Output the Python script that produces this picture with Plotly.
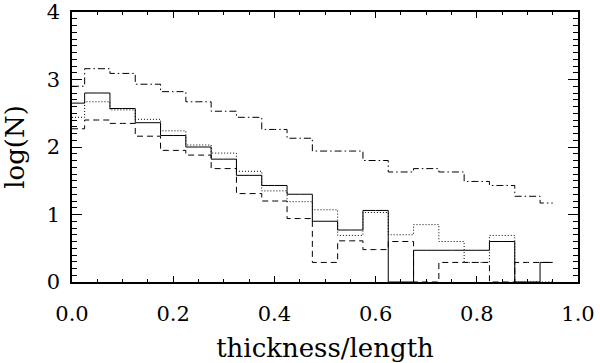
import plotly.graph_objects as go

# bin centres (thickness/length) and log(N) per population
bins = [0.00, 0.05, 0.10, 0.15, 0.20, 0.25, 0.30, 0.35, 0.40, 0.45,
        0.50, 0.55, 0.60, 0.65, 0.70, 0.75, 0.80, 0.85, 0.90, 0.95]

solid = [2.65, 2.80, 2.57, 2.36, 2.17, 2.00, 1.82, 1.58, 1.43, 1.30,
         0.90, 0.77, 1.06, 0.00, 0.47, 0.47, 0.47, 0.60, 0.00, 0.29]
dotted = [2.44, 2.67, 2.55, 2.41, 2.24, 2.03, 1.91, 1.64, 1.35, 1.19,
          1.07, 0.69, 1.03, 0.70, 0.85, 0.60, 0.29, 0.69, 0.00, 0.00]
dashed = [2.27, 2.40, 2.35, 2.16, 1.95, 1.88, 1.68, 1.31, 1.20, 0.94,
          0.29, 0.61, 0.48, 0.60, 0.00, 0.29, 0.29, 0.00, 0.29, 0.29]
dashdot = [2.90, 3.16, 3.09, 2.93, 2.82, 2.67, 2.53, 2.44, 2.26, 2.13,
           1.94, 1.94, 1.80, 1.63, 1.68, 1.63, 1.49, 1.43, 1.27, 1.17]

x_ticks = [0.0, 0.2, 0.4, 0.6, 0.8, 1.0]
x_labels = ["0.0", "0.2", "0.4", "0.6", "0.8", "1.0"]
y_ticks = [0, 1, 2, 3, 4]

FONT = "DejaVu Serif"

fig = go.Figure()
for ys, dash in [(solid, "solid"), (dotted, "1px,2px"), (dashed, "6px,4px"),
                 (dashdot, "7px,3px,1.5px,3px")]:
    fig.add_trace(go.Scatter(
        x=bins, y=ys, mode="lines", line_shape="hvh",
        line=dict(color="black", width=1, dash=dash), showlegend=False,
    ))

axis = dict(
    showline=True, linecolor="black", linewidth=1.5, mirror="allticks",
    ticks="inside", tickcolor="black", tickwidth=1, showgrid=False,
    zeroline=False, automargin=False, ticklabeloverflow="allow",
    tickfont=dict(family=FONT, size=21, color="black"),
)
fig.update_xaxes(
    range=[0, 1], tickvals=x_ticks, ticktext=x_labels, ticklen=6,
    ticklabelstandoff=12,
    minor=dict(dtick=0.05, ticks="inside", ticklen=3.5, tickcolor="black", tickwidth=1),
    title=dict(text="thickness/length", font=dict(family=FONT, size=26, color="black"), standoff=14),
    **axis,
)
fig.update_yaxes(
    range=[0, 4], tickvals=y_ticks, ticklen=10, ticklabelstandoff=6,
    minor=dict(dtick=0.1, ticks="inside", ticklen=5, tickcolor="black", tickwidth=1),
    title=dict(text="log(N)", font=dict(family=FONT, size=26, color="black"), standoff=16),
    **axis,
)
fig.update_layout(
    width=600, height=363,
    margin=dict(l=72, r=22, t=12, b=81),
    plot_bgcolor="white", paper_bgcolor="white",
)
# drop the browser's default 8px body margin so the figure sits at the page origin
fig.write_html("out.html", config={"displayModeBar": False},
               post_script="document.body.style.margin = '0';")
